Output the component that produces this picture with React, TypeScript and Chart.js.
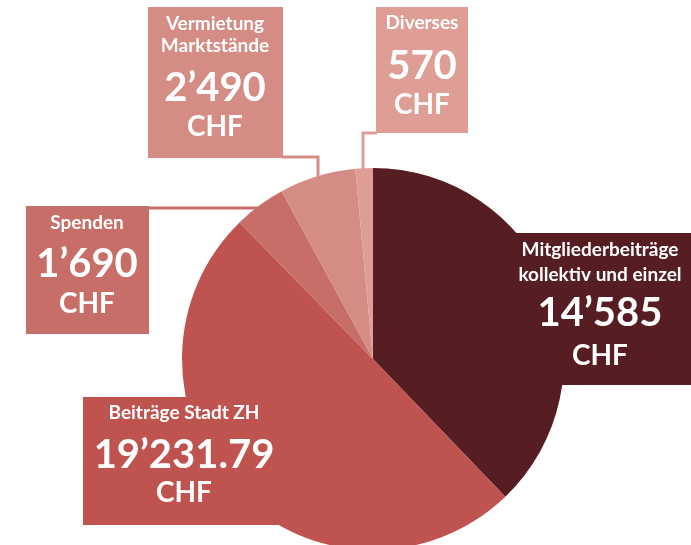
import React, { useEffect, useRef } from "react";
import { Chart, registerables } from "chart.js";

Chart.register(...registerables);

const categories = ["Mitgliederbeiträge kollektiv und einzel", "Beiträge Stadt ZH", "Spenden", "Vermietung Marktstände", "Diverses"];
const titleLines = [["Mitgliederbeiträge", "kollektiv und einzel"], ["Beiträge Stadt ZH"], ["Spenden"], ["Vermietung", "Marktstände"], ["Diverses"]];
const values = [14585, 19231.79, 1690, 2490, 570];
const valueLabels = ["14’585", "19’231.79", "1’690", "2’490", "570"];
const currency = "CHF";
const colors = ["#561E22", "#BE5350", "#C86E69", "#D48C84", "#DE9E96"];

// label box layout (x, y, w, h, text line y-positions relative to top, leader line)
const boxLayout = [
  { x: 507, y: 233, w: 184, h: 152, cx: 600, ty: [17, 42], vy: 80, cy: 123, line: null },
  { x: 83, y: 397, w: 200, h: 128, cx: 184, ty: [16], vy: 58, cy: 96, line: null },
  { x: 26, y: 206, w: 123, h: 128, cx: 87, ty: [17], vy: 58, cy: 98, line: [[148, 208], [262, 208]] },
  { x: 148, y: 7, w: 135, h: 151, cx: 215, ty: [17, 39], vy: 81, cy: 120, line: [[282, 157], [318, 157], [318, 190]] },
  { x: 376, y: 7, w: 92, h: 126, cx: 422, ty: [16], vy: 59, cy: 98, line: [[377, 133], [363, 133], [363, 190]] },
];

const labelPlugin = {
  id: "labelBoxes",
  beforeDatasetsDraw(chart: any) {
    const ctx = chart.ctx;
    ctx.save();
    boxLayout.forEach((b, i) => {
      if (!b.line) return;
      ctx.strokeStyle = colors[i];
      ctx.lineWidth = 3;
      ctx.beginPath();
      b.line.forEach((p, j) => (j === 0 ? ctx.moveTo(p[0], p[1]) : ctx.lineTo(p[0], p[1])));
      ctx.stroke();
    });
    ctx.restore();
  },
  afterDatasetsDraw(chart: any) {
    const ctx = chart.ctx;
    ctx.save();
    boxLayout.forEach((b, i) => {
      ctx.fillStyle = colors[i];
      ctx.fillRect(b.x, b.y, b.w, b.h);
      ctx.fillStyle = "#ffffff";
      ctx.textAlign = "center";
      ctx.textBaseline = "middle";
      ctx.font = "bold 19px Lato";
      titleLines[i].forEach((t, k) => ctx.fillText(t, b.cx, b.y + b.ty[k]));
      ctx.font = "bold 40px Lato";
      ctx.fillText(valueLabels[i], b.cx, b.y + b.vy);
      ctx.font = "bold 28px Lato";
      ctx.fillText(currency, b.cx, b.y + b.cy);
    });
    ctx.restore();
  },
};

export default function App() {
  const ref = useRef<HTMLCanvasElement>(null);
  useEffect(() => {
    if (!ref.current) return;
    const chart = new Chart(ref.current, {
      type: "pie",
      data: {
        labels: categories,
        datasets: [
          {
            data: values,
            backgroundColor: colors,
            borderWidth: 0,
            hoverOffset: 0,
          },
        ],
      },
      options: {
        responsive: false,
        animation: false,
        events: [],
        layout: { padding: { left: 182, right: 127, top: 168, bottom: 50 } },
        plugins: { legend: { display: false }, tooltip: { enabled: false } },
      },
      plugins: [labelPlugin],
    });
    return () => chart.destroy();
  }, []);
  return (
    <div style={{ position: "fixed", left: 0, top: 0, width: 691, height: 545, overflow: "hidden", background: "#fff" }}>
      <canvas ref={ref} width={691} height={600} style={{ width: 691, height: 600, display: "block" }} />
    </div>
  );
}
